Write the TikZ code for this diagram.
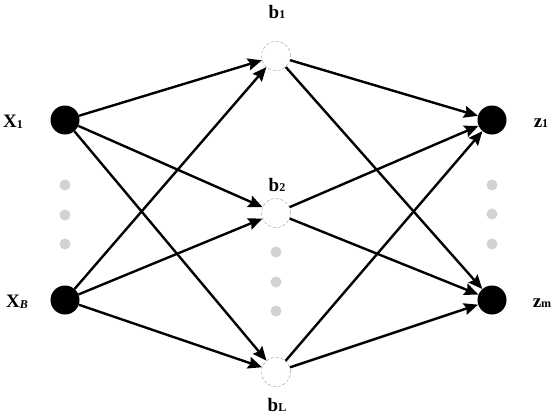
\documentclass[tikz,border=0pt]{standalone}
\usepackage{fontspec}
\setmainfont{Liberation Serif}
\usetikzlibrary{arrows.meta}
\begin{document}
\begin{tikzpicture}[x=1pt,y=-1pt,
  io/.style={circle,fill=black,minimum size=29pt,inner sep=0pt},
  hid/.style={circle,fill=white,draw=gray!70,densely dashed,line width=0.5pt,minimum size=29pt,inner sep=0pt},
  gdot/.style={circle,fill=gray!35,minimum size=11pt,inner sep=0pt},
  lab/.style={font=\bfseries\fontsize{19}{19}\selectfont,inner sep=0pt},
  sub/.style={},
  edge/.style={line width=2.4pt,-{Stealth[length=14pt,width=12pt,inset=2pt]}}]
\useasboundingbox (0,0) rectangle (552,416);
\node[io] (x1) at (65,120) {};
\node[io] (xB) at (65,300) {};
\node[hid] (b1) at (276,56) {};
\node[hid] (b2) at (276,213) {};
\node[hid] (bL) at (276,372) {};
\node[io] (z1) at (492,120) {};
\node[io] (zm) at (492,300) {};
\foreach \y [count=\i] in {185,215,244} {\node[gdot] (gx\i) at (65,\y) {};}
\foreach \y [count=\i] in {252,282,311} {\node[gdot] (gb\i) at (276,\y) {};}
\foreach \y [count=\i] in {185,214,244} {\node[gdot] (gz\i) at (492,\y) {};}
\node[lab] (lx1) at (13,122) {X\raisebox{-0.5pt}{\fontsize{12}{12}\selectfont 1}};
\node[lab] (lxB) at (17,302) {X\raisebox{-0.5pt}{\fontsize{12}{12}\selectfont\itshape B}};
\node[lab] (lb1) at (277,12) {b\raisebox{-0.5pt}{\fontsize{12}{12}\selectfont 1}};
\node[lab] (lb2) at (277,185) {b\raisebox{-0.5pt}{\fontsize{12}{12}\selectfont 2}};
\node[lab] (lbL) at (277,405) {b\raisebox{-0.5pt}{\fontsize{12}{12}\selectfont L}};
\node[lab] (lz1) at (541,123) {z\raisebox{-0.5pt}{\fontsize{12}{12}\selectfont 1}};
\node[lab] (lzm) at (542,303) {z\raisebox{-0.5pt}{\fontsize{12}{12}\selectfont m}};
\foreach \s in {x1,xB} \foreach \t in {b1,b2,bL} \draw[edge] (\s) -- (\t);
\foreach \s in {b1,b2,bL} \foreach \t in {z1,zm} \draw[edge] (\s) -- (\t);
\end{tikzpicture}
\end{document}
